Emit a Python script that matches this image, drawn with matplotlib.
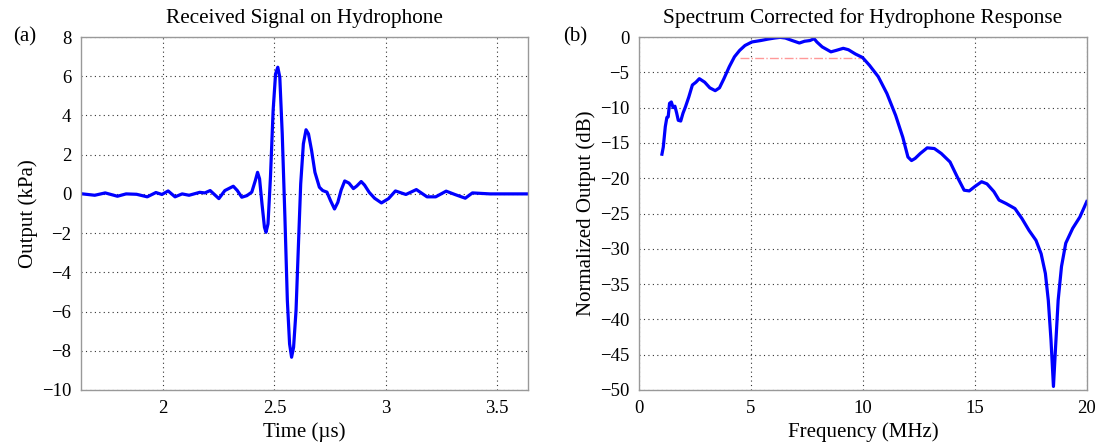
import matplotlib
matplotlib.use("Agg")
import matplotlib.pyplot as plt

plt.rcParams["font.family"] = ["Liberation Serif", "DejaVu Serif"]

# (a) received signal on hydrophone
time_us = [1.637, 1.692, 1.739, 1.794, 1.833, 1.880, 1.928, 1.967, 1.994, 2.022,
           2.053, 2.085, 2.116, 2.164, 2.187, 2.211, 2.250, 2.277, 2.315, 2.333,
           2.353, 2.376, 2.398, 2.414, 2.424, 2.433, 2.444, 2.455, 2.462, 2.471,
           2.482, 2.494, 2.505, 2.515, 2.524, 2.535, 2.547, 2.558, 2.568, 2.577,
           2.586, 2.597, 2.608, 2.618, 2.630, 2.642, 2.653, 2.667, 2.682, 2.702,
           2.717, 2.736, 2.752, 2.770, 2.785, 2.800, 2.816, 2.835, 2.855, 2.870,
           2.890, 2.905, 2.926, 2.950, 2.981, 3.013, 3.044, 3.091, 3.138, 3.186,
           3.225, 3.272, 3.311, 3.358, 3.390, 3.469, 3.634]
output_kpa = [0.0, -0.07, 0.05, -0.12, 0.0, -0.02, -0.15, 0.07, -0.03, 0.15,
              -0.15, 0.0, -0.07, 0.08, 0.05, 0.17, -0.24, 0.17, 0.39, 0.17,
              -0.17, -0.09, 0.09, 0.68, 1.10, 0.77, -0.51, -1.70, -1.96, -1.53,
              0.85, 4.25, 6.12, 6.46, 5.95, 3.06, -1.19, -5.44, -7.65, -8.33,
              -7.82, -5.95, -2.55, 0.51, 2.55, 3.27, 3.06, 2.21, 1.10, 0.34,
              0.17, 0.09, -0.34, -0.77, -0.43, 0.20, 0.66, 0.55, 0.27, 0.40,
              0.63, 0.45, 0.08, -0.22, -0.46, -0.24, 0.15, -0.03, 0.22, -0.15,
              -0.15, 0.14, -0.03, -0.22, 0.05, 0.0, 0.0]

# (b) spectrum corrected for hydrophone response
freq_mhz = [1.02, 1.08, 1.17, 1.24, 1.30, 1.36, 1.44, 1.52, 1.60, 1.68,
            1.75, 1.86, 1.96, 2.07, 2.22, 2.38, 2.54, 2.69, 2.93, 3.16,
            3.40, 3.59, 3.79, 4.03, 4.26, 4.49, 4.73, 5.04, 5.43, 5.75,
            6.06, 6.30, 6.53, 6.84, 7.16, 7.39, 7.63, 7.82, 7.94, 8.18,
            8.57, 8.80, 9.12, 9.35, 9.66, 9.98, 10.29, 10.68, 11.07, 11.46,
            11.78, 12.01, 12.17, 12.33, 12.56, 12.87, 13.19, 13.50, 13.89, 14.21,
            14.52, 14.75, 14.99, 15.30, 15.54, 15.85, 16.08, 16.40, 16.79, 17.10,
            17.42, 17.73, 17.96, 18.15, 18.28, 18.40, 18.51, 18.59, 18.72, 18.87,
            19.06, 19.37, 19.69, 20.0]
norm_db = [-16.6, -15.6, -12.7, -11.4, -11.3, -9.4, -9.2, -10.0, -9.8, -10.8,
           -11.8, -11.9, -10.8, -9.9, -8.5, -6.8, -6.4, -5.9, -6.4, -7.2,
           -7.6, -7.2, -5.9, -4.2, -2.8, -1.9, -1.2, -0.7, -0.5, -0.3,
           -0.14, -0.05, -0.14, -0.5, -0.85, -0.6, -0.5, -0.24, -0.7, -1.4,
           -2.1, -1.9, -1.6, -1.8, -2.4, -2.9, -4.0, -5.6, -8.0, -11.1,
           -14.2, -17.0, -17.5, -17.2, -16.5, -15.7, -15.8, -16.5, -17.7, -19.8,
           -21.7, -21.8, -21.2, -20.5, -20.8, -21.9, -23.1, -23.6, -24.3, -25.7,
           -27.4, -28.8, -30.7, -33.5, -37.3, -42.9, -49.5, -44.8, -37.3, -32.5,
           -29.2, -27.1, -25.5, -23.3]

band_freq = [4.5, 10.0]
band_db = [-3, -3]


def minus(vals):
    return [str(v).replace("-", "\u2212") for v in vals]


def style_axes(ax):
    ax.grid(True, linestyle=(0, (1, 3)), color="#333333", linewidth=0.8)
    for sp in ax.spines.values():
        sp.set_color("#999999")
        sp.set_linewidth(1.0)
    ax.tick_params(direction="in", length=0, labelsize=13.5, pad=7)


fig = plt.figure(figsize=(11, 4.46), dpi=100)
ax1 = fig.add_axes([0.0736, 0.1256, 0.4064, 0.7914])
ax2 = fig.add_axes([0.581, 0.1256, 0.407, 0.7914])

ax1.plot(time_us, output_kpa, color="#0000ff", linewidth=2.3)
ax1.set_xlim(1.63, 3.64)
ax1.set_ylim(-10, 8)
ax1.set_xticks([2, 2.5, 3, 3.5])
ax1.set_xticklabels(["2", "2.5", "3", "3.5"])
ax1.set_yticks(range(-10, 9, 2))
ax1.set_yticklabels(minus(range(-10, 9, 2)))
ax1.set_title("Received Signal on Hydrophone", fontsize=15.3, pad=10)
ax1.set_xlabel("Time (\u00b5s)", fontsize=15, labelpad=4)
ax1.set_ylabel("Output (kPa)", fontsize=15, labelpad=3)
style_axes(ax1)
fig.text(0.012, 0.917, "(a)", fontsize=15, va="center")

ax2.plot(band_freq, band_db, color="#ff9999", linewidth=1, linestyle="-.")
ax2.plot(freq_mhz, norm_db, color="#0000ff", linewidth=2.3)
ax2.set_xlim(0, 20)
ax2.set_ylim(-50, 0)
ax2.set_xticks([0, 5, 10, 15, 20])
ax2.set_yticks(range(-50, 1, 5))
ax2.set_yticklabels(minus(range(-50, 1, 5)))
ax2.set_title("Spectrum Corrected for Hydrophone Response", fontsize=15.3, pad=10)
ax2.set_xlabel("Frequency (MHz)", fontsize=15, labelpad=4)
ax2.set_ylabel("Normalized Output (dB)", fontsize=15, labelpad=3)
style_axes(ax2)
fig.text(0.512, 0.917, "(b)", fontsize=15, va="center")

fig.savefig("out.png", dpi=100)
